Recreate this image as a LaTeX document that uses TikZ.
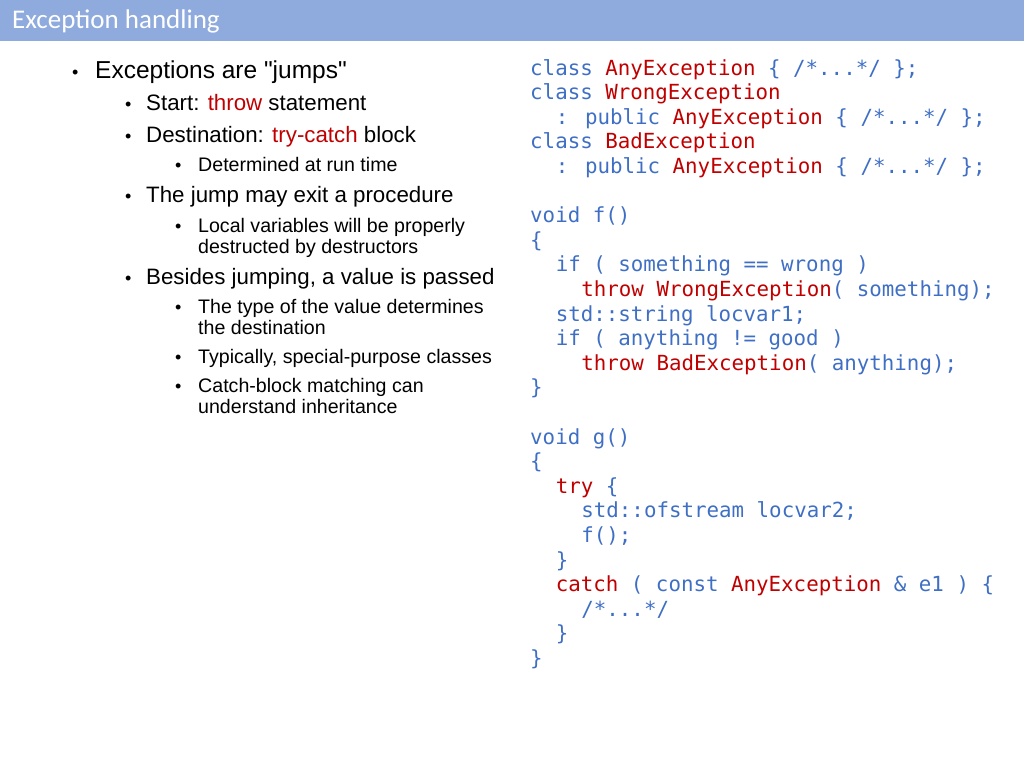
\documentclass[tikz,border=0pt]{standalone}
\usepackage{fontspec}
\setmainfont{Liberation Sans}
\newfontfamily\titlefont{Carlito}
\newfontfamily\codefont{DejaVu Sans Mono}
\definecolor{barblue}{HTML}{8FAADC}
\definecolor{kwblue}{HTML}{3F6FC4}
\definecolor{kwred}{HTML}{C00000}
\tikzset{
  lvlone/.style={anchor=base west, inner sep=0pt, font=\fontsize{24.5}{28}\selectfont},
  lvltwo/.style={anchor=base west, inner sep=0pt, font=\fontsize{22.3}{26}\selectfont},
  lvlthree/.style={anchor=base west, inner sep=0pt, font=\fontsize{19.6}{22}\selectfont},
  dot/.style={anchor=base west, inner sep=0pt, font=\fontsize{18}{20}\selectfont},
  codeline/.style={anchor=base west, inner sep=0pt, text=kwblue, font=\codefont\fontsize{20.8}{24.6}\selectfont}
}
\newcommand{\rd}[1]{\textcolor{kwred}{#1}}
\begin{document}
\begin{tikzpicture}[x=1pt,y=-1pt]
  \useasboundingbox (0,0) rectangle (1024,768);
  \fill[barblue] (0,0) rectangle (1024,41);
  \node[anchor=west, inner sep=0pt, text=white, font=\titlefont\fontsize{27}{30}\selectfont] (title) at (12,21) {Exception handling};
  % bullets
  \node[dot] (d1) at (72,78) {\textbullet};
  \node[lvlone] (b1) at (95,78) {Exceptions are \textquotedbl jumps\textquotedbl};
  \node[dot] (d2) at (125,110) {\textbullet};
  \node[lvltwo] (b2) at (146,110) {Start: \rd{throw} statement};
  \node[dot] (d3) at (125,142) {\textbullet};
  \node[lvltwo] (b3) at (146,142) {Destination: \rd{try-catch} block};
  \node[dot] (d4) at (175,171) {\textbullet};
  \node[lvlthree] (b4) at (198,171) {Determined at run time};
  \node[dot] (d5) at (125,202) {\textbullet};
  \node[lvltwo] (b5) at (146,202) {The jump may exit a procedure};
  \node[dot] (d6) at (175,232) {\textbullet};
  \node[lvlthree] (b6) at (198,232) {Local variables will be properly};
  \node[lvlthree] (b6b) at (198,253) {destructed by destructors};
  \node[dot] (d7) at (125,284) {\textbullet};
  \node[lvltwo] (b7) at (146,284) {Besides jumping, a value is passed};
  \node[dot] (d8) at (175,313) {\textbullet};
  \node[lvlthree] (b8) at (198,313) {The type of the value determines};
  \node[lvlthree] (b8b) at (198,334) {the destination};
  \node[dot] (d9) at (175,363) {\textbullet};
  \node[lvlthree] (b9) at (198,363) {Typically, special-purpose classes};
  \node[dot] (d10) at (175,392) {\textbullet};
  \node[lvlthree] (b10) at (198,392) {Catch-block matching can};
  \node[lvlthree] (b10b) at (198,413) {understand inheritance};
  % code
  \node[codeline] (c1) at (530,75) {class \rd{AnyException} \{ /*...*/ \};};
  \node[codeline] (c2) at (530,99.6) {class \rd{WrongException}};
  \node[codeline] (c3) at (555.6,124.2) {: public \rd{AnyException} \{ /*...*/ \};};
  \node[codeline] (c4) at (530,148.8) {class \rd{BadException}};
  \node[codeline] (c5) at (555.6,173.4) {: public \rd{AnyException} \{ /*...*/ \};};
  \node[codeline] (c6) at (530,222.6) {void f()};
  \node[codeline] (c7) at (530,247.2) {\{};
  \node[codeline] (c8) at (555.6,271.8) {if ( something == wrong )};
  \node[codeline] (c9) at (581.2,296.4) {\rd{throw WrongException}( something);};
  \node[codeline] (c10) at (555.6,321) {std::string locvar1;};
  \node[codeline] (c11) at (555.6,345.6) {if ( anything != good )};
  \node[codeline] (c12) at (581.2,370.2) {\rd{throw BadException}( anything);};
  \node[codeline] (c13) at (530,394.8) {\}};
  \node[codeline] (c14) at (530,444) {void g()};
  \node[codeline] (c15) at (530,468.6) {\{};
  \node[codeline] (c16) at (555.6,493.2) {\rd{try} \{};
  \node[codeline] (c17) at (581.2,517.8) {std::ofstream locvar2;};
  \node[codeline] (c18) at (581.2,542.4) {f();};
  \node[codeline] (c19) at (555.6,567) {\}};
  \node[codeline] (c20) at (555.6,591.6) {\rd{catch} ( const \rd{AnyException} \& e1 ) \{};
  \node[codeline] (c21) at (581.2,616.2) {/*...*/};
  \node[codeline] (c22) at (555.6,640.8) {\}};
  \node[codeline] (c23) at (530,665.4) {\}};
\end{tikzpicture}
\end{document}
